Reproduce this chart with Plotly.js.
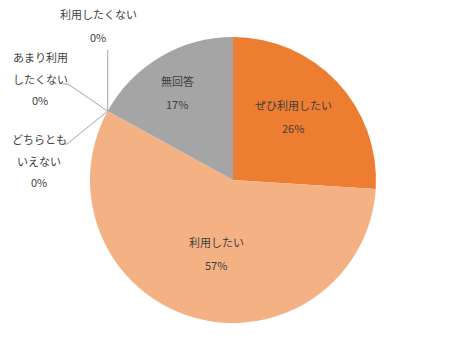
<!DOCTYPE html>
<html><head><meta charset="utf-8">
<script src="https://cdn.plot.ly/plotly-3.0.1.min.js"></script>
<style>html,body{margin:0;padding:0;background:#fff;}#chart{width:466px;height:359px;}</style>
</head><body><div id="chart"></div>
<script>
const categories = ['ぜひ利用したい', '利用したい', 'どちらともいえない', 'あまり利用したくない', '利用したくない', '無回答'];
const values = [26, 57, 0, 0, 0, 17];
const colors = ['#ED7D31', '#F4B183', '#FFD966', '#9DC3E6', '#5B9BD5', '#A5A5A5'];
// display lines for each label
const labelLines = [['ぜひ利用したい'], ['利用したい'], ['どちらとも', 'いえない'], ['あまり利用', 'したくない'], ['利用したくない'], ['無回答']];

const W = 466, H = 359;
const cx = 233, cy = 180, R = 143;
const total = values.reduce((a, b) => a + b, 0);
const pct = values.map(v => Math.round(v / total * 100) + '%');

// label anchor positions (pixels, top-left origin) for first line of each label
const labelPos = [[293, 105], [216, 242], [39, 139], [40, 57], [98, 14], [177, 81]];
const lineGap = 22;

const annotations = [];
labelLines.forEach((lines, i) => {
  const all = lines.concat([pct[i]]);
  all.forEach((t, j) => {
    const gap = (j === all.length - 1) ? (lines.length > 1 ? 21 : 23) : lineGap;
    const y = labelPos[i][1] + (j === 0 ? 0 : (j === all.length - 1 ? (lines.length - 1) * lineGap + gap : j * lineGap));
    annotations.push({
      xref: 'paper', yref: 'paper', x: labelPos[i][0] / W, y: 1 - y / H,
      xanchor: 'center', yanchor: 'middle', showarrow: false,
      text: t, font: {family: '"Noto Sans CJK JP", sans-serif', size: 11, color: '#404040'}
    });
  });
});

// leader lines for zero slices: start at slice edge computed from data
let cum = 0;
const edgeAngles = values.map(v => { const a = (cum + v / 2) / total * 2 * Math.PI; cum += v; return a; });
function edgePt(i) { const a = edgeAngles[i]; return [cx + R * Math.sin(a), cy - R * Math.cos(a)]; }
const shapes = [];
const lineStyle = {color: '#A6A6A6', width: 1};
function seg(x0, y0, x1, y1) { shapes.push({type: 'line', xref: 'paper', yref: 'paper', x0: x0 / W, y0: 1 - y0 / H, x1: x1 / W, y1: 1 - y1 / H, line: lineStyle}); }
// 利用したくない (index 4): vertical
let p = edgePt(4); seg(p[0], p[1], p[0], 50);
// あまり利用したくない (index 3)
p = edgePt(3); seg(p[0], p[1], 68, 84); seg(68, 84, 63, 84);
// どちらともいえない (index 2)
p = edgePt(2); seg(p[0], p[1], 67, 144); seg(67, 144, 62, 144);

const trace = {
  type: 'pie', labels: categories, values: values, sort: false, direction: 'clockwise', rotation: 0,
  marker: {colors: colors, line: {width: 0}}, textinfo: 'none', hoverinfo: 'label+percent',
  domain: {x: [(cx - R) / W, (cx + R) / W], y: [(H - cy - R) / H, (H - cy + R) / H]},
  showlegend: false
};
Plotly.newPlot('chart', [trace], {
  width: W, height: H, margin: {l: 0, r: 0, t: 0, b: 0},
  paper_bgcolor: '#fff', plot_bgcolor: '#fff', showlegend: false,
  annotations: annotations, shapes: shapes
}, {displayModeBar: false, staticPlot: true});
</script></body></html>
